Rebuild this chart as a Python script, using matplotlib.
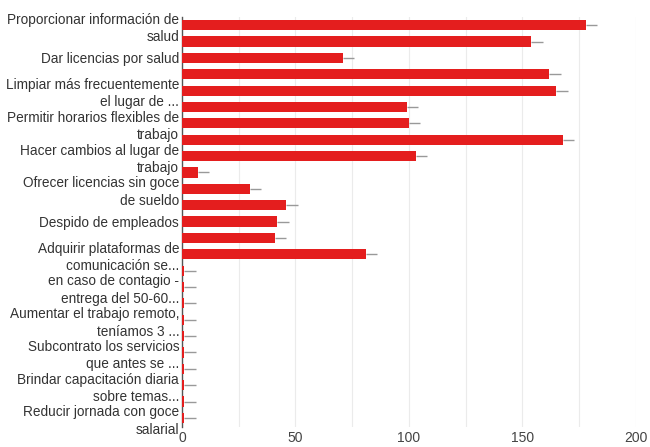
import matplotlib
matplotlib.use('Agg')
from matplotlib import pyplot as plt
import numpy as np

# only every other category label is shown on the chart
labels = [
    'Proporcionar información de\nsalud', '',
    'Dar licencias por salud', '',
    'Limpiar más frecuentemente\nel lugar de ...', '',
    'Permitir horarios flexibles de\ntrabajo', '',
    'Hacer cambios al lugar de\ntrabajo', '',
    'Ofrecer licencias sin goce\nde sueldo', '',
    'Despido de empleados', '',
    'Adquirir plataformas de\ncomunicación se...', '',
    'en caso de contagio -\nentrega del 50-60...', '',
    'Aumentar el trabajo remoto,\nteníamos 3 ...', '',
    'Subcontrato los servicios\nque antes se ...', '',
    'Brindar capacitación diaria\nsobre temas...', '',
    'Reducir jornada con goce\nsalarial',
]
# bar i sits at row i, labels belong to rows 0, 2, 4, ...
values = [178, 154, 71, 162, 165, 99, 100, 168, 103, 7, 30, 46, 42, 41, 81,
          1, 1, 1, 1, 1, 1, 1, 1, 1, 1]
errors = [5] * len(values)

ticks_x = [0, 50, 100, 150, 200]

plt.rcParams['font.family'] = ['Liberation Sans', 'DejaVu Sans']

fig = plt.figure(figsize=(6.5, 4.47), dpi=100)
ax = fig.add_axes([0.28, 0.045, 0.698, 0.917])

y = np.arange(len(values))
ax.barh(y, values, height=0.62, color='#e41e1e', zorder=3)
ax.errorbar(values, y, xerr=[np.zeros(len(values)), errors], fmt='none',
            ecolor='#999999', elinewidth=1, capsize=0, zorder=4)

ax.set_xlim(0, 200)
ax.set_ylim(len(values) - 0.45, -0.5)
ax.set_xticks(ticks_x)
ax.set_xticks(np.arange(25, 200, 25), minor=True)
ax.set_xticklabels([str(t) for t in ticks_x], color='#444444', fontsize=10)
ax.grid(axis='x', which='both', color='#ebebeb', linewidth=0.8, zorder=0)

ax.set_yticks(y)
ax.set_yticklabels(labels, fontsize=9.8, color='#333333', linespacing=1.3)
ax.tick_params(axis='both', which='both', length=0)
ax.tick_params(axis='y', pad=2)
ax.tick_params(axis='x', pad=3)

for s in ['top', 'right', 'bottom']:
    ax.spines[s].set_visible(False)
ax.spines['left'].set_color('#555555')
ax.spines['left'].set_linewidth(1)
ax.spines['left'].set_zorder(2)

fig.savefig('out.png', dpi=100)
